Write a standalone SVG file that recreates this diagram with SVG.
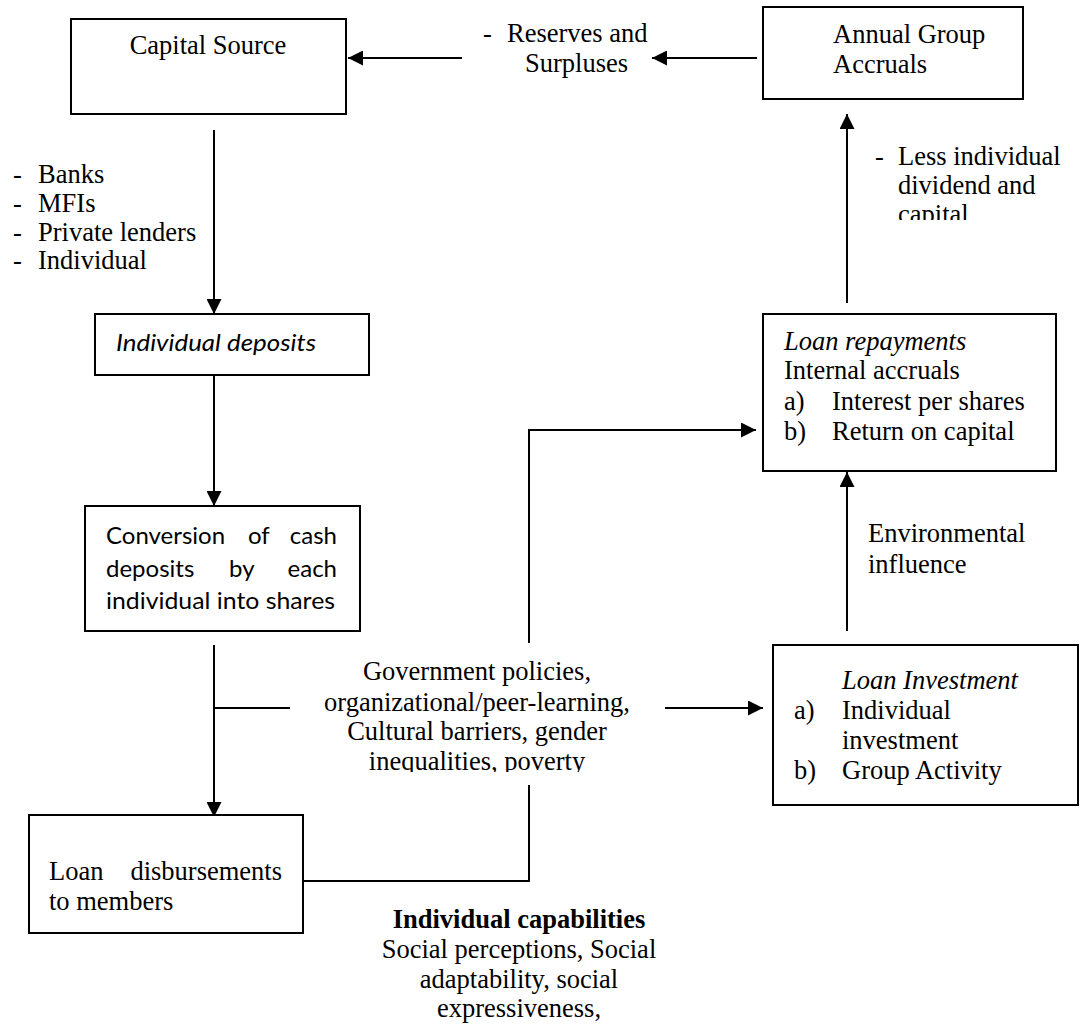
<svg xmlns="http://www.w3.org/2000/svg" width="1081" height="1028" viewBox="0 0 1081 1028">
<style>
.box{fill:#fff;stroke:#000;stroke-width:2}
.t{font-family:"Liberation Serif","Times New Roman",serif;font-size:26.5px;fill:#000}
.c{font-family:Lato,"Open Sans",sans-serif;font-size:24px;fill:#000}
.i{font-style:italic}
.b{font-weight:bold}
.m{text-anchor:middle}
.e{text-anchor:end}
.ln{fill:none;stroke:#000;stroke-width:2}
.ar{fill:none;stroke:#000;stroke-width:2;marker-end:url(#ah)}
</style>
<defs>
<marker id="ah" markerUnits="userSpaceOnUse" markerWidth="15" markerHeight="15" refX="15" refY="7.5" orient="auto">
<path d="M0,0 L15,7.5 L0,15 z" fill="#000"/>
</marker>
<clipPath id="clipCap"><rect x="860" y="140" width="220" height="80"/></clipPath>
<clipPath id="clipGov"><rect x="300" y="650" width="360" height="122"/></clipPath>
</defs>
<rect width="1081" height="1028" fill="#fff"/>

<g id="connectors">
<line class="ar" x1="462" y1="58" x2="348" y2="58"/>
<line class="ar" x1="757" y1="58" x2="652" y2="58"/>
<line class="ar" x1="847" y1="303" x2="847" y2="114"/>
<line class="ar" x1="214" y1="130" x2="214" y2="314"/>
<line class="ar" x1="214" y1="375" x2="214" y2="506"/>
<line class="ar" x1="214" y1="645" x2="214" y2="817"/>
<line class="ln" x1="214" y1="708" x2="290" y2="708"/>
<line class="ar" x1="665" y1="708" x2="763" y2="708"/>
<polyline class="ar" points="529,643 529,430 756,430"/>
<polyline class="ln" points="303,881 529,881 529,785"/>
<line class="ar" x1="847" y1="631" x2="847" y2="472"/>
</g>

<g id="capital-source">
<rect class="box" x="71" y="19" width="275" height="95"/>
<text class="t m" x="208" y="54">Capital Source</text>
</g>

<g id="annual-group-accruals">
<rect class="box" x="763" y="7" width="260" height="92"/>
<text class="t" x="833" y="43">Annual Group</text>
<text class="t" x="833" y="73">Accruals</text>
</g>

<g id="individual-deposits">
<rect class="box" x="95" y="314" width="274" height="61"/>
<text class="c i" x="116" y="351" textLength="200" lengthAdjust="spacingAndGlyphs">Individual deposits</text>
</g>

<g id="conversion">
<rect class="box" x="85" y="506" width="275" height="125"/>
<text class="c" x="106" y="544">Conversion</text>
<text class="c" x="248" y="544">of</text>
<text class="c e" x="337" y="544">cash</text>
<text class="c" x="106" y="577">deposits</text>
<text class="c" x="229" y="577">by</text>
<text class="c e" x="337" y="577">each</text>
<text class="c" x="106" y="609" textLength="229" lengthAdjust="spacingAndGlyphs">individual into shares</text>
</g>

<g id="loan-disbursements">
<rect class="box" x="29" y="815" width="274" height="118"/>
<text class="t" x="49" y="880">Loan</text>
<text class="t e" x="282" y="880">disbursements</text>
<text class="t" x="49" y="910">to members</text>
</g>

<g id="loan-repayments">
<rect class="box" x="763" y="314" width="293" height="157"/>
<text class="t i" x="784" y="350">Loan repayments</text>
<text class="t" x="784" y="379">Internal accruals</text>
<text class="t" x="784" y="410">a)</text>
<text class="t" x="832" y="410">Interest per shares</text>
<text class="t" x="784" y="440">b)</text>
<text class="t" x="832" y="440">Return on capital</text>
</g>

<g id="loan-investment">
<rect class="box" x="773" y="645" width="305" height="160"/>
<text class="t i" x="842" y="689">Loan Investment</text>
<text class="t" x="794" y="719">a)</text>
<text class="t" x="842" y="719">Individual</text>
<text class="t" x="842" y="749">investment</text>
<text class="t" x="794" y="779">b)</text>
<text class="t" x="842" y="779">Group Activity</text>
</g>

<g id="label-reserves">
<text class="t" x="483" y="42">-</text>
<text class="t" x="507" y="42">Reserves and</text>
<text class="t" x="525" y="72">Surpluses</text>
</g>

<g id="label-sources">
<text class="t" x="13" y="183">-</text><text class="t" x="38" y="183">Banks</text>
<text class="t" x="13" y="212">-</text><text class="t" x="38" y="212">MFIs</text>
<text class="t" x="13" y="241">-</text><text class="t" x="38" y="241">Private lenders</text>
<text class="t" x="13" y="269">-</text><text class="t" x="38" y="269">Individual</text>
</g>

<g id="label-less" clip-path="url(#clipCap)">
<text class="t" x="875" y="165">-</text>
<text class="t" x="898" y="165">Less individual</text>
<text class="t" x="898" y="194">dividend and</text>
<text class="t" x="898" y="223">capital</text>
</g>

<g id="label-environmental">
<text class="t" x="868" y="542">Environmental</text>
<text class="t" x="868" y="573">influence</text>
</g>

<g id="label-government" clip-path="url(#clipGov)">
<text class="t m" x="477" y="680">Government policies,</text>
<text class="t m" x="477" y="711">organizational/peer-learning,</text>
<text class="t m" x="477" y="740">Cultural barriers, gender</text>
<text class="t m" x="477" y="770">inequalities, poverty</text>
</g>

<g id="label-capabilities">
<text class="t m b" x="519" y="928">Individual capabilities</text>
<text class="t m" x="519" y="958">Social perceptions, Social</text>
<text class="t m" x="519" y="988">adaptability, social</text>
<text class="t m" x="519" y="1017">expressiveness,</text>
</g>
</svg>
